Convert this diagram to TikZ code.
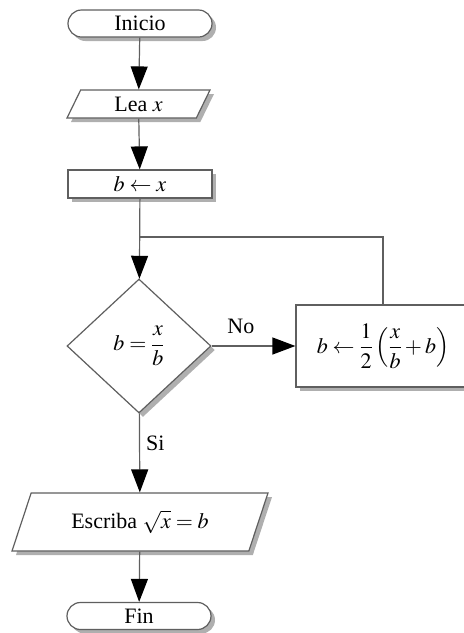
\documentclass[tikz,border=0pt]{standalone}
\usepackage{amsmath}
\usepackage{mathptmx}
\usepackage{fontspec}
\setmainfont{Liberation Serif}
\usetikzlibrary{shapes.geometric,shapes.misc,arrows.meta,shadows}
\definecolor{linec}{RGB}{95,95,95}
\definecolor{shadc}{RGB}{175,175,175}
\tikzset{
  base/.style={draw=linec, line width=1.2pt, fill=white, inner sep=0pt,
    drop shadow={shadow xshift=4pt, shadow yshift=-4pt, fill=shadc, opacity=1}},
  term/.style={base, rounded rectangle, minimum width=144pt, minimum height=27pt},
  io/.style={base, trapezium, trapezium stretches body=true},
  proc/.style={base, rectangle},
  decis/.style={base, diamond, minimum width=144pt, minimum height=134pt, aspect=1.07},
  flow/.style={draw=linec, line width=1.2pt, -{Triangle[length=23pt,width=17pt,black]}},
  plain/.style={draw=linec, line width=1.2pt},
  lab/.style={inner sep=0pt}
}
\begin{document}
\begin{tikzpicture}[x=1pt,y=-1pt,font=\fontsize{22}{26}\selectfont]
  \useasboundingbox (0,0) rectangle (464,633);
  \node[term] (ini) at (140,23.5) {Inicio};
  \node[io, trapezium left angle=47, trapezium right angle=133,
        minimum width=143pt, minimum height=28pt] (lea) at (138.5,104) {Lea $x$};
  \node[proc, minimum width=144pt, minimum height=28pt] (asg) at (140,184) {$b\leftarrow x$};
  \node[decis] (dec) at (139,346) {$b=\dfrac{x}{b}$};
  \node[proc, minimum width=174pt, minimum height=82pt] (upd) at (383,346)
        {$b\leftarrow\dfrac{1}{2}\left(\dfrac{x}{b}+b\right)$};
  \node[io, trapezium left angle=50, trapezium right angle=130,
        minimum width=256pt, minimum height=58pt] (out) at (140,522) {Escriba $\sqrt{x}=b$};
  \node[term] (fin) at (139,616) {Fin};
  \coordinate (jn) at (139,237);

  \draw[flow] (ini) -- (lea);
  \draw[flow] (lea) -- (asg);
  \draw[flow] (asg) -- (dec);
  \draw[plain] (upd.north) |- (jn);
  \draw[flow] (dec) -- node[lab, pos=0.35, above=12pt] {No} (upd);
  \draw[flow] (dec) -- node[lab, pos=0.38, right=6pt] {Si} (out);
  \draw[flow] (out) -- (fin);
\end{tikzpicture}
\end{document}
